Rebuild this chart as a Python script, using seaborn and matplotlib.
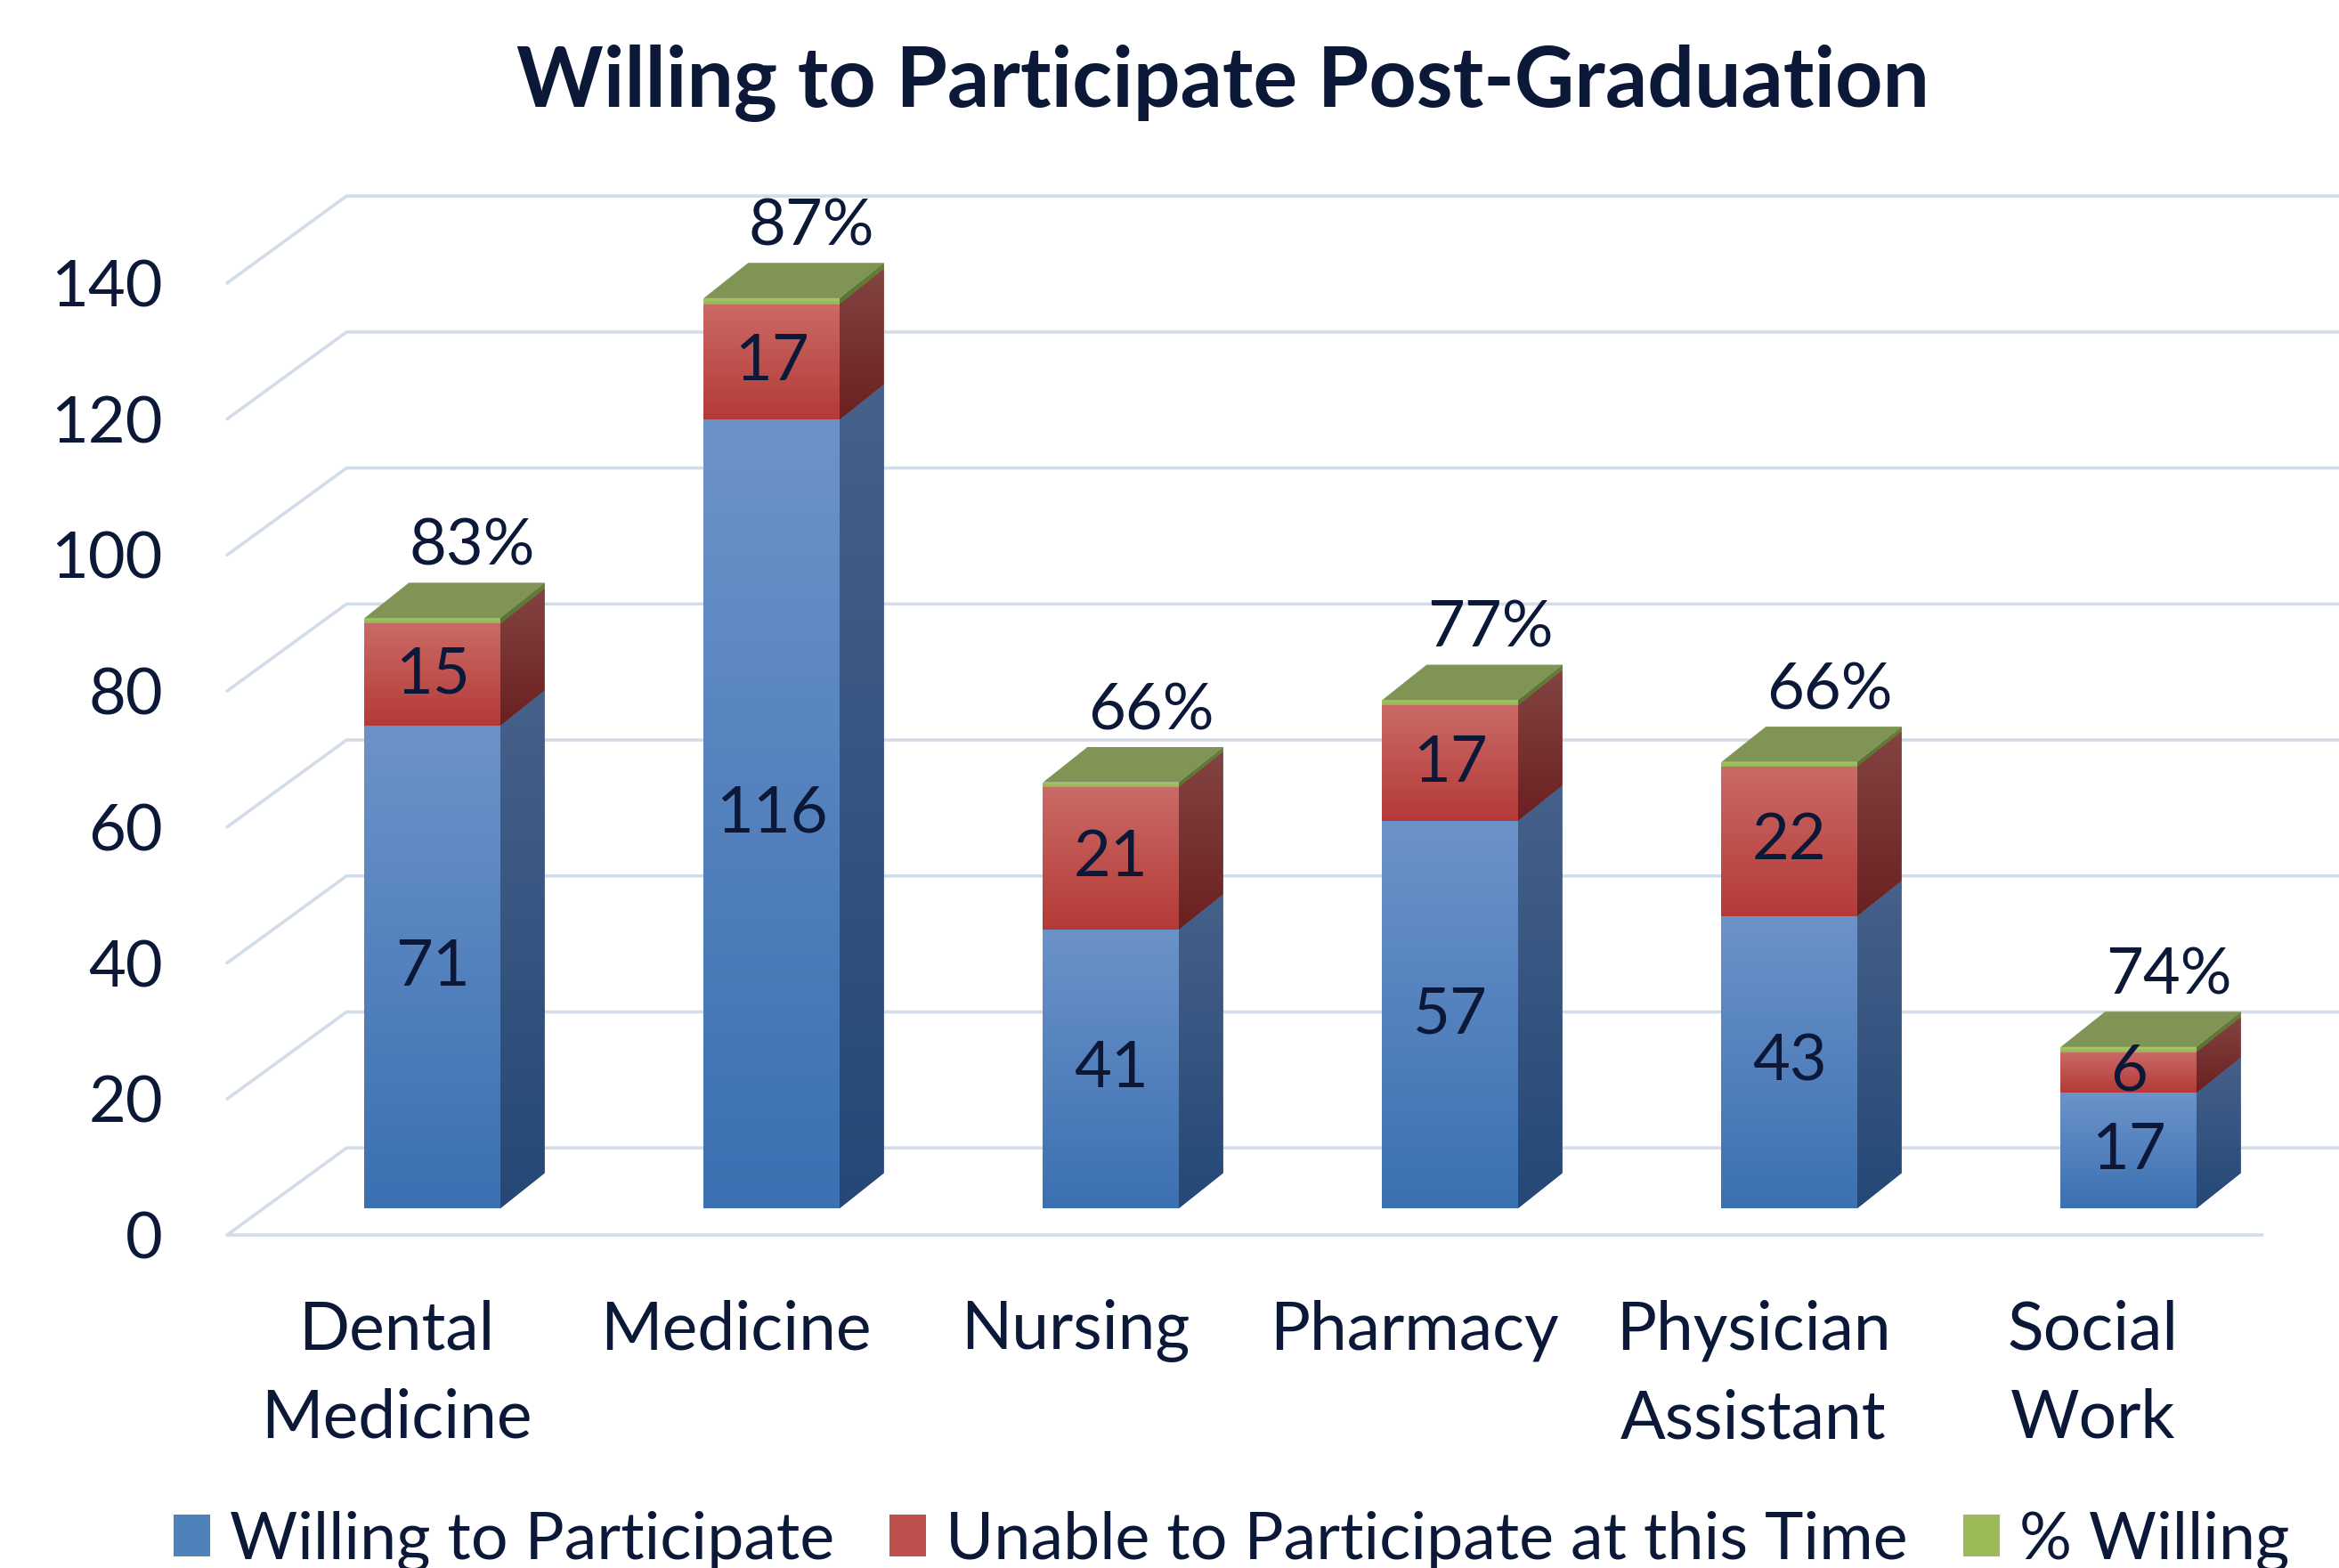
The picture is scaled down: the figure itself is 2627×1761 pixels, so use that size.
import numpy as np
import pandas as pd
import seaborn as sns
import matplotlib.pyplot as plt
from matplotlib.patches import Polygon, Patch
from matplotlib.colors import LinearSegmentedColormap

# data
categories = ['Dental\nMedicine', 'Medicine', 'Nursing', 'Pharmacy',
              'Physician\nAssistant', 'Social\nWork']
willing = [71, 116, 41, 57, 43, 17]
unable = [15, 17, 21, 17, 22, 6]
pct_willing = [0.83, 0.87, 0.66, 0.77, 0.66, 0.74]
pct_labels = ['83%', '87%', '66%', '77%', '66%', '74%']
series_names = ['Willing to Participate', 'Unable to Participate at this Time', '% Willing']
yticks = [0, 20, 40, 60, 80, 100, 120, 140]

TXT = '#0c1838'
GRID = '#d3dce9'

# fake 3d depth, in data units (x: categories, y: values)
WALL_DX, WALL_DY = 0.352, 12.8
FRONT_DX, FRONT_DY = 0.105, 3.9
BAR_DX, BAR_DY = 0.131, 5.2
BAR_W = 0.4

# front/side gradient colours (top, bottom) per series
front_cols = [('#6c93c9', '#3b70b2'), ('#ca6a66', '#b43a37'), ('#a6c66a', '#94b553')]
side_cols = [('#46618a', '#254876'), ('#834442', '#6b2020'), ('#66803a', '#5a7430')]
top_col = '#7f9455'
legend_cols = ['#4f81bd', '#c0504d', '#9bbb59']

sns.set_theme(style='white')
plt.rcParams['font.family'] = ['Lato', 'DejaVu Sans']

fig = plt.figure(figsize=(26.27, 17.61), dpi=100)
ax = fig.add_axes([0.0971, 0.2124, 0.8702, 0.6938])


def shade(patch, c_top, c_bot, z):
    if isinstance(patch, Polygon):
        pts = patch.get_xy()
    else:
        x0, y0 = patch.get_xy()
        pts = np.array([[x0, y0], [x0 + patch.get_width(), y0 + patch.get_height()]])
    x0, x1 = pts[:, 0].min(), pts[:, 0].max()
    y0, y1 = pts[:, 1].min(), pts[:, 1].max()
    cmap = LinearSegmentedColormap.from_list('g', [c_top, c_bot])
    grad = np.linspace(0, 1, 256).reshape(-1, 1)
    im = ax.imshow(grad, cmap=cmap, extent=[x0, x1, y0, y1], origin='upper',
                   aspect='auto', interpolation='bilinear', zorder=z)
    im.set_clip_path(patch)


# back wall grid lines with the slanted left side
for v in yticks:
    ax.plot([-0.5, -0.5 + WALL_DX, 5.5 + WALL_DX + 0.3], [v, v + WALL_DY, v + WALL_DY],
            color=GRID, lw=2.6, clip_on=False, zorder=1, solid_capstyle='round')
ax.plot([-0.5, 5.5], [0, 0], color=GRID, lw=2.6, clip_on=False, zorder=1,
        solid_capstyle='round')

xpos = np.arange(len(categories)) + FRONT_DX
df = pd.DataFrame({'x': xpos, 'willing': willing, 'unable': unable, 'pct': pct_willing})
bottoms = [FRONT_DY + np.zeros(len(xpos)),
           FRONT_DY + np.array(willing, float),
           FRONT_DY + np.array(willing, float) + np.array(unable, float)]

for k, col in enumerate(['willing', 'unable', 'pct']):
    sns.barplot(data=df, x='x', y=col, native_scale=True, orient='x', width=BAR_W,
                bottom=bottoms[k], color=legend_cols[k], saturation=1, errorbar=None,
                linewidth=0, zorder=3, ax=ax)
    for p in ax.containers[-1]:
        x0, y0 = p.get_xy()
        w, h = p.get_width(), p.get_height()
        xr = x0 + w
        shade(p, *front_cols[k], 3.1)
        side = Polygon([(xr, y0), (xr + BAR_DX, y0 + BAR_DY),
                        (xr + BAR_DX, y0 + h + BAR_DY), (xr, y0 + h)],
                       closed=True, facecolor=side_cols[k][0], edgecolor='none', zorder=3)
        ax.add_patch(side)
        shade(side, *side_cols[k], 3.1)
        if k == 2:
            yt = y0 + h
            ax.add_patch(Polygon([(x0, yt), (xr, yt), (xr + BAR_DX, yt + BAR_DY),
                                  (x0 + BAR_DX, yt + BAR_DY)], closed=True,
                                 facecolor=top_col, edgecolor='none', zorder=3.2))

# value labels inside the segments
for i in range(len(categories)):
    ax.text(xpos[i], bottoms[0][i] + willing[i] / 2, str(willing[i]), ha='center',
            va='center', fontsize=52, color=TXT, zorder=6)
    ax.text(xpos[i], bottoms[1][i] + unable[i] / 2, str(unable[i]), ha='center',
            va='center', fontsize=52, color=TXT, zorder=6)
    ax.text(xpos[i] + BAR_DX * 0.9, bottoms[2][i] + pct_willing[i] + BAR_DY + 5.3,
            pct_labels[i], ha='center', va='center', fontsize=52, color=TXT, zorder=6)

ax.set_xlim(-0.5, 5.5)
ax.set_ylim(0, 160)
ax.set_xticks(range(len(categories)))
ax.set_xticklabels(categories, fontsize=54, color=TXT, linespacing=1.55)
ax.set_yticks(yticks)
ax.set_yticklabels([str(v) for v in yticks], fontsize=52, color=TXT)
ax.tick_params(axis='x', length=0, pad=52)
ax.tick_params(axis='y', length=0, pad=52)
ax.set_xlabel('')
ax.set_ylabel('')
ax.grid(False)
for s in ax.spines.values():
    s.set_visible(False)

fig.text(0.523, 0.947, 'Willing to Participate Post-Graduation', ha='center', va='center',
         fontsize=67, fontweight='bold', color=TXT)

handles = [Patch(facecolor=c, edgecolor='none', label=n) for c, n in zip(legend_cols, series_names)]
fig.legend(handles=handles, loc='center', bbox_to_anchor=(0.5265, 0.017), ncol=3,
           frameon=False, fontsize=53, labelcolor=TXT, handlelength=0.55, handleheight=0.6,
           handletextpad=0.3, columnspacing=0.85, borderaxespad=0, borderpad=0)

fig.savefig('out.png', dpi=100, facecolor='white')
